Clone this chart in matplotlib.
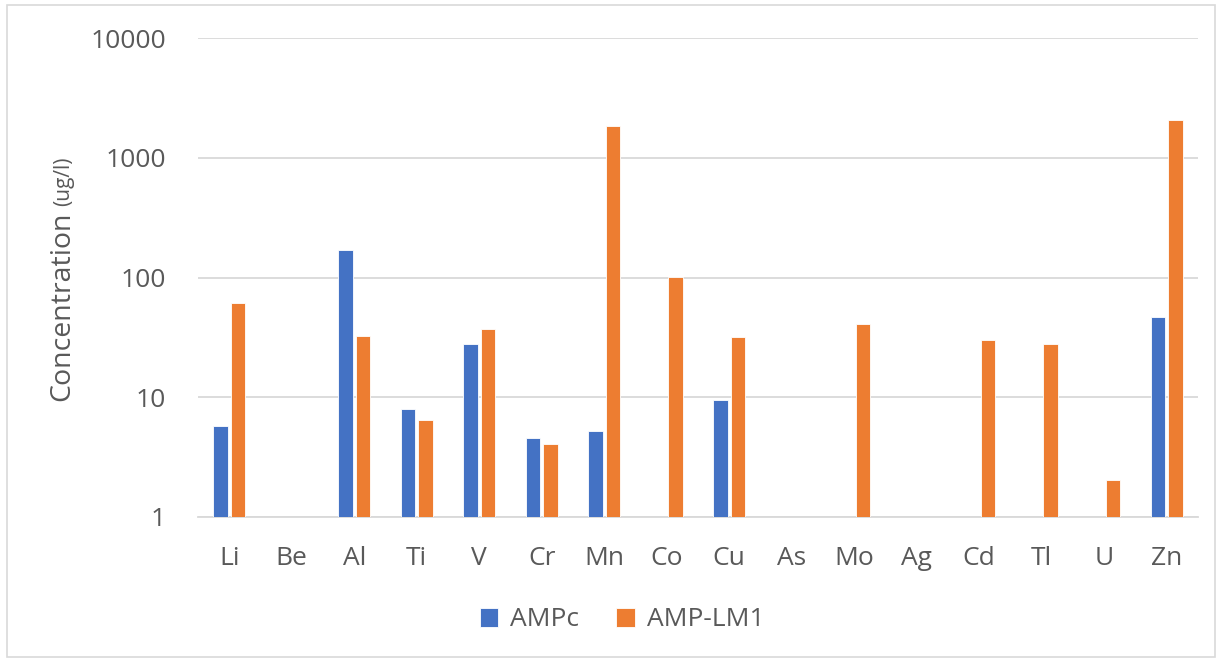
import matplotlib.pyplot as plt
import numpy as np
from matplotlib.patches import Rectangle

plt.rcParams['font.family'] = ['Open Sans', 'DejaVu Sans']

elements = ['Li', 'Be', 'Al', 'Ti', 'V', 'Cr', 'Mn', 'Co', 'Cu', 'As', 'Mo', 'Ag', 'Cd', 'Tl', 'U', 'Zn']
nan = np.nan
ampc = [5.7, nan, 169, 8.0, 27.9, 4.6, 5.2, nan, 9.5, nan, nan, nan, nan, nan, nan, 47.1]
amp_lm1 = [61, nan, 32.4, 6.4, 37.4, 4.05, 1850, 101, 32, nan, 41, nan, 30.3, 27.9, 2.04, 2080]

grey = '#595959'
blue = '#4472C4'
orange = '#ED7D31'

fig = plt.figure(figsize=(12.2, 6.6), dpi=100)
ax = fig.add_axes([198 / 1220, 1 - 517 / 660, 1000 / 1220, 479 / 660])

x = np.arange(len(elements))
w = 0.23
ax.bar(x - 0.14, ampc, w, color=blue, edgecolor='white', linewidth=0.6, label='AMPc', zorder=3)
ax.bar(x + 0.14, amp_lm1, w, color=orange, edgecolor='white', linewidth=0.6, label='AMP-LM1', zorder=3)

ax.set_yscale('log')
ax.set_ylim(1, 10000)
ax.set_xlim(-0.5, len(elements) - 0.5)
ax.set_yticks([1, 10, 100, 1000, 10000])
ax.set_yticklabels(['1', '10', '100', '1000', '10000'])
ax.minorticks_off()
ax.set_xticks(x)
ax.set_xticklabels(elements)
ax.tick_params(axis='both', length=0, labelsize=19, colors=grey)
ax.tick_params(axis='y', pad=23)
ax.tick_params(axis='x', pad=21)
ax.grid(axis='y', color='#d9d9d9', linewidth=1.3, zorder=0)
for s in ['top', 'right', 'left']:
    ax.spines[s].set_visible(False)
ax.spines['bottom'].set_color('#d9d9d9')
ax.spines['bottom'].set_linewidth(1.3)

# y label in two sizes, stacked along the rotated baseline
t1 = fig.text(62 / 1220, 1 - 401 / 660, 'Concentration', rotation=90, ha='center', va='bottom',
              fontsize=20.5, color=grey)
renderer = fig.canvas.get_renderer()
bb = t1.get_window_extent(renderer)
fig.text(64 / 1220, (bb.y1 + 5) / 660, '(ug/l)', rotation=90, ha='center', va='bottom',
         fontsize=15, color=grey)

leg = fig.legend(loc='center', bbox_to_anchor=(622 / 1220, 1 - 620 / 660), ncol=2, frameon=False,
                 fontsize=19, handlelength=0.7, handleheight=0.7, handletextpad=0.45, columnspacing=1.4)
for t in leg.get_texts():
    t.set_color(grey)

fig.patches.append(Rectangle((7 / 1220, 3 / 660), 1208 / 1220, 652 / 660, transform=fig.transFigure,
                             fill=False, edgecolor='#d9d9d9', linewidth=1.2))

fig.savefig('out.png', dpi=100)
